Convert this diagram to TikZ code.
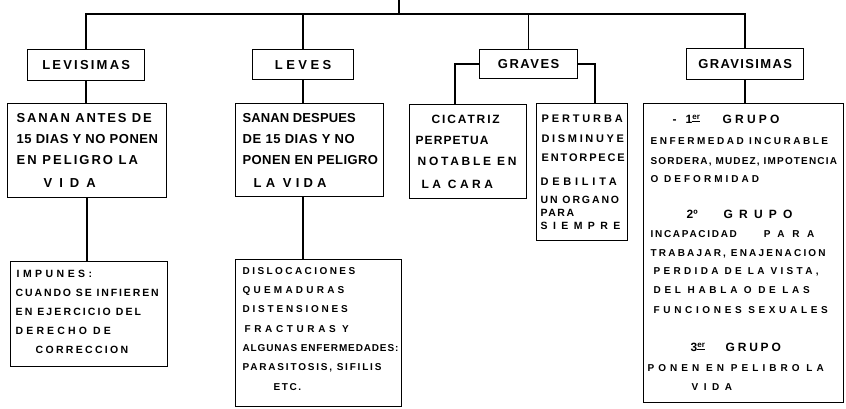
\documentclass[tikz,border=0pt]{standalone}
\usepackage{fontspec}
\setmainfont{Liberation Sans}
\ExplSyntaxOn
\tl_new:N \l__rs_ls_tl
\tl_new:N \l__rs_text_tl
\dim_new:N \l__rs_ls_dim
\dim_new:N \l__rs_sp_dim
\box_new:N \l__rs_box
\NewDocumentCommand \fitw { m m }
  {
    \hbox_set:Nn \l__rs_box { #2 }
    \dim_set:Nn \l__rs_ls_dim
      {
        \fp_to_dim:n
          { ( #1 - \dim_to_fp:n { \box_wd:N \l__rs_box } ) / ( \str_count:n { #2 } ) }
      }
    \dim_set:Nn \l__rs_sp_dim { \tex_fontdimen:D 2 \tex_font:D + \l__rs_ls_dim }
    \tl_set:Nx \l__rs_ls_tl
      {
        \fp_eval:n
          { round ( \dim_to_fp:n { \l__rs_ls_dim } / \use:c { f@size } * 100 , 2 ) }
      }
    \tl_set:Nn \l__rs_text_tl { #2 }
    \tl_replace_all:Nnn \l__rs_text_tl { ~ } { \skip_horizontal:N \l__rs_sp_dim }
    \mode_leave_vertical:
    \hbox:n
      {
        \exp_args:Nx \addfontfeature { LetterSpace = \l__rs_ls_tl }
        \l__rs_text_tl
      }
  }
\ExplSyntaxOff
\newcommand\Lt[3]{\leavevmode\hbox{\hskip#1pt\fitw{#2}{#3}}}
\newcommand\Lh[1]{\leavevmode\hbox{#1}}
\tikzset{
  box/.style={draw, line width=1.3pt, rectangle, inner sep=0pt, anchor=north west, align=left},
  ttl/.style={box, align=center, font=\fontsize{13}{15}\selectfont\bfseries},
  conn/.style={line width=1.4pt}
}
\begin{document}
\begin{tikzpicture}[x=1pt,y=-1pt]
\useasboundingbox (0,0) rectangle (846,408);
% title boxes
\node[ttl, text width=117pt, minimum height=31pt] (lvs) at (27,49) {\fitw{90}{LEVISIMAS}};
\node[ttl, text width=101pt, minimum height=30pt] (lev) at (252,49) {\fitw{60}{LEVES}};
\node[ttl, text width=98pt, minimum height=29pt] (grv) at (479,49) {\fitw{63}{GRAVES}};
\node[ttl, text width=117pt, minimum height=31pt] (gvs) at (686,48) {\fitw{95}{GRAVISIMAS}};
% LEVISIMAS column
\node[box, text width=159pt, minimum height=94pt, font=\fontsize{13}{21}\selectfont\bfseries] (lvs2) at (7,103) {%
\Lt{9}{142}{SANAN ANTES DE}\\
\Lt{9}{147}{15 DIAS Y NO PONEN}\\
\Lt{9}{129}{EN PELIGRO LA}\\[2pt]
\Lt{36}{59}{VIDA}};
\node[box, text width=157pt, minimum height=105pt, font=\fontsize{10.5}{19}\selectfont\bfseries] (lvs3) at (10,261) {%
\Lt{6}{79}{IMPUNES:}\\
\Lt{5}{150}{CUANDO SE INFIEREN}\\
\Lt{5}{133}{EN EJERCICIO DEL}\\
\Lt{5}{102}{DERECHO DE}\\
\Lt{25}{95}{CORRECCION}\rule[-5pt]{0pt}{5pt}};
% LEVES column
\node[box, text width=148pt, minimum height=93pt, font=\fontsize{13}{21}\selectfont\bfseries] (lev2) at (235,103) {%
\Lt{7}{114}{SANAN DESPUES}\\
\Lt{7}{118}{DE 15 DIAS Y NO}\\
\Lt{7}{138}{PONEN EN PELIGRO}\\[2pt]
\Lt{18}{82}{LA VIDA}};
\node[box, text width=166pt, minimum height=147pt, font=\fontsize{10}{19.3}\selectfont\bfseries] (lev3) at (235,259) {%
\Lt{7}{115}{DISLOCACIONES}\\
\Lt{7}{105}{QUEMADURAS}\\
\Lt{7}{108}{DISTENSIONES}\\
\Lt{9}{112}{FRACTURAS Y}\\
\Lt{7}{158}{ALGUNAS ENFERMEDADES:}\\
\Lt{7}{143}{PARASITOSIS, SIFILIS}\\
\Lt{38}{29}{ETC.}\rule[-9pt]{0pt}{9pt}};
% GRAVES column
\node[box, text width=117pt, minimum height=94pt, font=\fontsize{12}{21}\selectfont\bfseries] (grv2) at (409,104) {%
\Lt{22}{70}{CICATRIZ}\\
\Lt{6}{74}{PERPETUA}\\
\Lt{8}{105}{NOTABLE EN}\\[2pt]
\Lt{12}{79}{LA CARA}};
\node[box, text width=91pt, minimum height=137pt, font=\fontsize{11}{20}\selectfont\bfseries] (grv3) at (536,103) {%
\Lt{5}{84}{PERTURBA}\\
\Lt{5}{85}{DISMINUYE}\\[-1pt]
\Lt{5}{85}{ENTORPECE}\\[4pt]
\Lt{4}{80}{DEBILITA}\\[-2pt]
{\fontsize{10.5}{13}\selectfont\Lt{4}{83}{UN ORGANO}}\\[-7pt]
{\fontsize{10.5}{13}\selectfont\Lt{4}{35}{PARA}}\\[-7pt]
{\fontsize{10.5}{13}\selectfont\Lt{4}{85}{SIEMPRE}}};
% GRAVISIMAS column
\node[box, text width=200pt, minimum height=299pt, font=\fontsize{10}{19}\selectfont\bfseries] (gvs2) at (643,103) {%
\Lh{\hskip29pt\fontsize{12}{19}\selectfont\makebox[13pt][l]{-}\makebox[37pt][l]{1\textsuperscript{\underline{er}}}\fitw{60}{GRUPO}}\\[2pt]
\Lt{7}{183}{ENFERMEDAD INCURABLE}\\[1pt]
\Lt{7}{191}{SORDERA, MUDEZ, IMPOTENCIA}\\[-1pt]
\Lt{7}{115}{O DEFORMIDAD}\\[17pt]
\Lh{\hskip43pt\fontsize{12}{19}\selectfont\makebox[37pt][l]{2º}\fitw{75}{GRUPO}}\\
\Lh{\hskip7pt\fitw{88}{INCAPACIDAD}\hskip27pt\fitw{58}{PARA}}\\
\Lt{7}{180}{TRABAJAR, ENAJENACION}\\[-1pt]
\Lt{10}{180}{PERDIDA DE LA VISTA,}\\
\Lt{10}{177}{DEL HABLA O DE LAS}\\[1pt]
\Lt{10}{182}{FUNCIONES SEXUALES}\\[19pt]
\Lh{\hskip47pt\fontsize{12}{19}\selectfont\makebox[35pt][l]{3\textsuperscript{\underline{er}}}\fitw{58}{GRUPO}}\\[1pt]
\Lt{4}{194}{PONEN EN PELIBRO LA}\\
\Lt{48}{46}{VIDA}};
% top bar
\coordinate (top) at (399,0);
\coordinate (bar) at (399,14);
\draw[conn] (top) -- (bar);
\draw[conn] (lvs.north) -- (lvs.north |- bar) -- (gvs.north |- bar) -- (gvs.north);
\draw[conn] (lev.north) -- (lev.north |- bar);
\draw[conn] (grv.north) -- (grv.north |- bar);
% vertical connectors
\draw[conn] (lvs.south) -- (lvs.south |- lvs2.north);
\draw[conn] (lvs2.south) -- (lvs2.south |- lvs3.north);
\draw[conn] (lev.south) -- (lev.south |- lev2.north);
\draw[conn] (lev.south |- lev2.south) -- (lev.south |- lev3.north);
\draw[conn] (grv.west) -| ([xshift=46pt]grv2.north west);
\draw[conn] (grv.east) -| ([xshift=59pt]grv3.north west);
\draw[conn] (gvs.south) -- (gvs.south |- gvs2.north);
\end{tikzpicture}
\end{document}
